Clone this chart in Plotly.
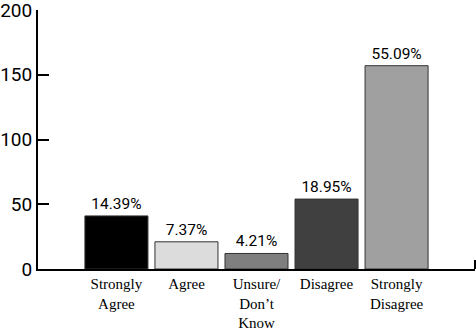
import plotly.graph_objects as go

categories = ["Strongly<br>Agree", "Agree", "Unsure/<br>Don\u2019t<br>Know", "Disagree", "Strongly<br>Disagree"]
counts = [41, 21, 12, 54, 157]
percent_labels = ["14.39%", "7.37%", "4.21%", "18.95%", "55.09%"]
bar_colors = ["#000000", "#dcdcdc", "#7f7f7f", "#404040", "#a0a0a0"]
y_ticks = [0, 50, 100, 150, 200]

x_pos = list(range(len(categories)))

fig = go.Figure(go.Bar(
    x=x_pos, y=counts, width=0.9,
    marker=dict(color=bar_colors, line=dict(color="#333333", width=1)),
    text=percent_labels, textposition="outside", cliponaxis=False,
    textfont=dict(family="Roboto", size=15.5, color="#000"),
))

fig.update_layout(
    width=476, height=334, margin=dict(l=38, r=1, t=10, b=65),
    plot_bgcolor="white", paper_bgcolor="white", showlegend=False,
    xaxis=dict(range=[-1.12, 5.12], tickvals=x_pos, ticktext=categories,
               showline=True, linecolor="#000", linewidth=2, showgrid=False,
               zeroline=False, ticks="", automargin=False,
               tickfont=dict(family="Liberation Serif", size=15, color="#000")),
    yaxis=dict(range=[0, 200], tickvals=y_ticks, showline=True, linecolor="#000",
               linewidth=2, showgrid=False, zeroline=False, ticks="inside",
               ticklen=11, tickwidth=2, tickcolor="#000", automargin=False,
               ticklabeloverflow="allow",
               tickfont=dict(family="Roboto", size=19, color="#000")),
    shapes=[dict(type="line", xref="paper", yref="paper", x0=1, x1=1, y0=0, y1=9/259,
                 line=dict(color="#000", width=2))],
)

fig.write_html("out.html")
